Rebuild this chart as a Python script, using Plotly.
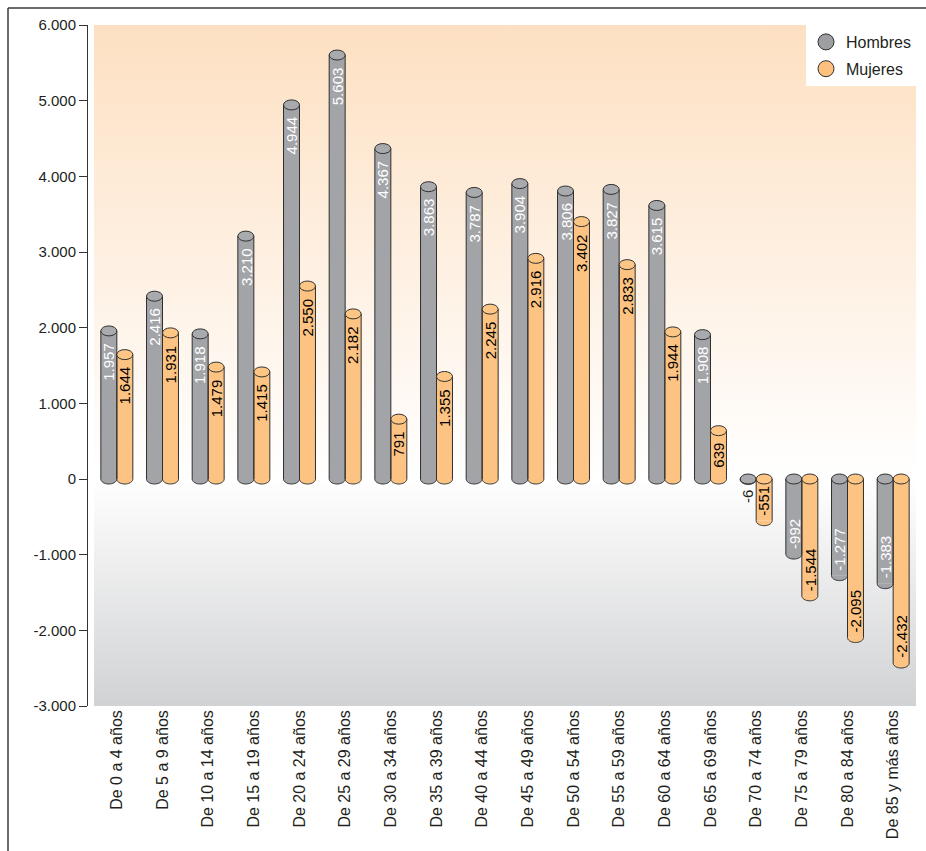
import base64
import numpy as np
import plotly.graph_objects as go

# ---- data -------------------------------------------------------------
categories = [
    "De 0 a 4 años", "De 5 a 9 años", "De 10 a 14 años", "De 15 a 19 años",
    "De 20 a 24 años", "De 25 a 29 años", "De 30 a 34 años", "De 35 a 39 años",
    "De 40 a 44 años", "De 45 a 49 años", "De 50 a 54 años", "De 55 a 59 años",
    "De 60 a 64 años", "De 65 a 69 años", "De 70 a 74 años", "De 75 a 79 años",
    "De 80 a 84 años", "De 85 y más años",
]
hombres = [1957, 2416, 1918, 3210, 4944, 5603, 4367, 3863, 3787, 3904,
           3806, 3827, 3615, 1908, -6, -992, -1277, -1383]
mujeres = [1644, 1931, 1479, 1415, 2550, 2182, 791, 1355, 2245, 2916,
           3402, 2833, 1944, 639, -551, -1544, -2095, -2432]

y_ticks = [-3000, -2000, -1000, 0, 1000, 2000, 3000, 4000, 5000, 6000]
y_tick_labels = ["-3.000", "-2.000", "-1.000", "0", "1.000", "2.000",
                 "3.000", "4.000", "5.000", "6.000"]
grid_values = [-2000, -1000, 1000, 2000, 3000, 4000, 5000]

# ---- style ------------------------------------------------------------
FONT = "Arial, 'Liberation Sans', Helvetica, sans-serif"
TEXT = "#231f20"
EDGE = "#2f2f30"
GRAY, GRAY_CAP = "#a3a4a8", "#a9aaae"
ORANGE, ORANGE_CAP = "#fdc382", "#fdc685"
Y_MIN, Y_MAX = -3000, 6000
N = len(categories)
BARGAP = 0.30
HALF_W = (1 - BARGAP) / 4          # half width of one bar, x units
CAP_RY = 66                         # half height of the cylinder ellipses, y units

W, H = 926, 851
x_dom = [94 / W, 916 / W]
y_dom = [(H - 706) / H, (H - 25) / H]

x = np.arange(N)

fig = go.Figure()

# cylinder bodies
for name, vals, col in [("Hombres", hombres, GRAY), ("Mujeres", mujeres, ORANGE)]:
    fig.add_trace(go.Bar(x=x, y=vals, name=name, marker=dict(color=col, line=dict(width=0)),
                         showlegend=False, hoverinfo="skip"))

# round legend markers
for name, col in [("Hombres", "#9e9fa3"), ("Mujeres", "#fdc07e")]:
    fig.add_trace(go.Scatter(x=[None], y=[None], mode="markers", name=name, legendgroup=name,
                             marker=dict(symbol="circle", size=16, color=col,
                                         line=dict(color=EDGE, width=1))))

shapes = []
annotations = []


def fmt(v):
    s = f"{abs(v):,}".replace(",", ".")
    return ("-" if v < 0 else "") + s


def cylinder(xc, v, body, cap):
    top, bot = max(v, 0), min(v, 0)
    x0, x1 = xc - HALF_W, xc + HALF_W
    t = np.linspace(0, np.pi, 29)
    ax = xc - HALF_W * np.cos(t)
    ay = bot - CAP_RY * np.sin(t)
    arc = " ".join(f"L{a:.4f},{b:.2f}" for a, b in zip(ax, ay))
    # rounded end below the body
    shapes.append(dict(type="path", xref="x", yref="y", layer="above",
                       path=f"M{x0:.4f},{bot} {arc} Z",
                       fillcolor=body, line=dict(width=0)))
    # outline of sides and rounded end
    shapes.append(dict(type="path", xref="x", yref="y", layer="above",
                       path=f"M{x0:.4f},{top} L{x0:.4f},{bot} {arc} L{x1:.4f},{top}",
                       fillcolor="rgba(0,0,0,0)", line=dict(color=EDGE, width=1)))
    # elliptical cap
    shapes.append(dict(type="circle", xref="x", yref="y", layer="above",
                       x0=x0, x1=x1, y0=top - CAP_RY, y1=top + CAP_RY,
                       fillcolor=cap, line=dict(color=EDGE, width=1)))


def label(xc, v, inside_color):
    fits = abs(v) > 400
    if v > 0:
        ya, ys, col = "top", -10, inside_color
    elif fits:
        ya, ys, col = "bottom", 3, inside_color
    else:
        ya, ys, col = "top", -9, TEXT
    annotations.append(dict(x=xc, y=v if fits else min(v, 0), xref="x", yref="y",
                            text=fmt(v), showarrow=False, textangle=-90,
                            xanchor="center", yanchor=ya, yshift=ys,
                            font=dict(family=FONT, size=15, color=col)))


for i in range(N):
    cylinder(i - HALF_W, hombres[i], GRAY, GRAY_CAP)
    cylinder(i + HALF_W, mujeres[i], ORANGE, ORANGE_CAP)
for i in range(N):
    label(i - HALF_W, hombres[i], "white")
    label(i + HALF_W, mujeres[i], "#000000")

# grid lines (dotted) and zero line, under the bars
grid_shapes = []
for g in grid_values:
    grid_shapes.append(dict(type="line", xref="x domain", yref="y", layer="below",
                            x0=0, x1=1, y0=g, y1=g,
                            line=dict(color="#5a5a5a", width=1, dash="dot")))
grid_shapes.append(dict(type="line", xref="x domain", yref="y", layer="below",
                        x0=0, x1=1, y0=0, y1=0, line=dict(color="#6a6a6a", width=1)))

# outer frame
frame = [
    dict(type="line", xref="paper", yref="paper", x0=8 / W, x1=8 / W,
         y0=0, y1=1 - 8 / H, line=dict(color="#3a3a3a", width=1.5)),
    dict(type="line", xref="paper", yref="paper", x0=8 / W, x1=1,
         y0=1 - 8 / H, y1=1 - 8 / H, line=dict(color="#3a3a3a", width=1.5)),
]

# background: peach above zero fading to white, then white to gray below zero
zero_pct = (Y_MAX - 0) / (Y_MAX - Y_MIN) * 100
svg = f"""<svg xmlns='http://www.w3.org/2000/svg' width='100' height='100' viewBox='0 0 100 100' preserveAspectRatio='none'>
<defs><linearGradient id='g' x1='0' y1='0' x2='0' y2='1'>
<stop offset='0%' stop-color='#fde0c2'/>
<stop offset='{zero_pct:.3f}%' stop-color='#ffffff'/>
<stop offset='100%' stop-color='#d1d2d4'/>
</linearGradient></defs>
<rect x='0' y='0' width='100' height='100' fill='url(#g)'/></svg>"""
bg_uri = "data:image/svg+xml;base64," + base64.b64encode(svg.encode()).decode()

fig.update_layout(
    width=W, height=H,
    template="none",
    margin=dict(l=0, r=0, t=0, b=0),
    paper_bgcolor="white",
    plot_bgcolor="rgba(0,0,0,0)",
    font=dict(family=FONT, color=TEXT),
    barmode="group", bargap=BARGAP, bargroupgap=0,
    images=[dict(source=bg_uri, xref="x", yref="y", x=-0.5, y=Y_MAX,
                 sizex=N, sizey=Y_MAX - Y_MIN, sizing="stretch",
                 xanchor="left", yanchor="top", layer="below")],
    shapes=grid_shapes + shapes + frame,
    annotations=annotations,
    legend=dict(x=x_dom[1], xanchor="right", y=y_dom[1], yanchor="top",
                bgcolor="white", borderwidth=0, tracegroupgap=3,
                font=dict(family=FONT, size=16, color=TEXT),
                itemsizing="trace"),
    xaxis=dict(domain=x_dom, range=[-0.5, N - 0.5], tickvals=list(x), ticktext=categories,
               tickangle=-90, ticks="", showline=False, showgrid=False, zeroline=False,
               tickfont=dict(family=FONT, size=16, color=TEXT), automargin=False),
    yaxis=dict(domain=y_dom, range=[Y_MIN, Y_MAX], anchor="free", position=87 / W,
               tickvals=y_ticks, ticktext=y_tick_labels, ticks="outside", ticklen=8,
               tickcolor="#333333", showline=True, linecolor="#333333", linewidth=1,
               showgrid=False, zeroline=False,
               tickfont=dict(family=FONT, size=15, color=TEXT), automargin=False),
)

fig.write_html("out.html")
